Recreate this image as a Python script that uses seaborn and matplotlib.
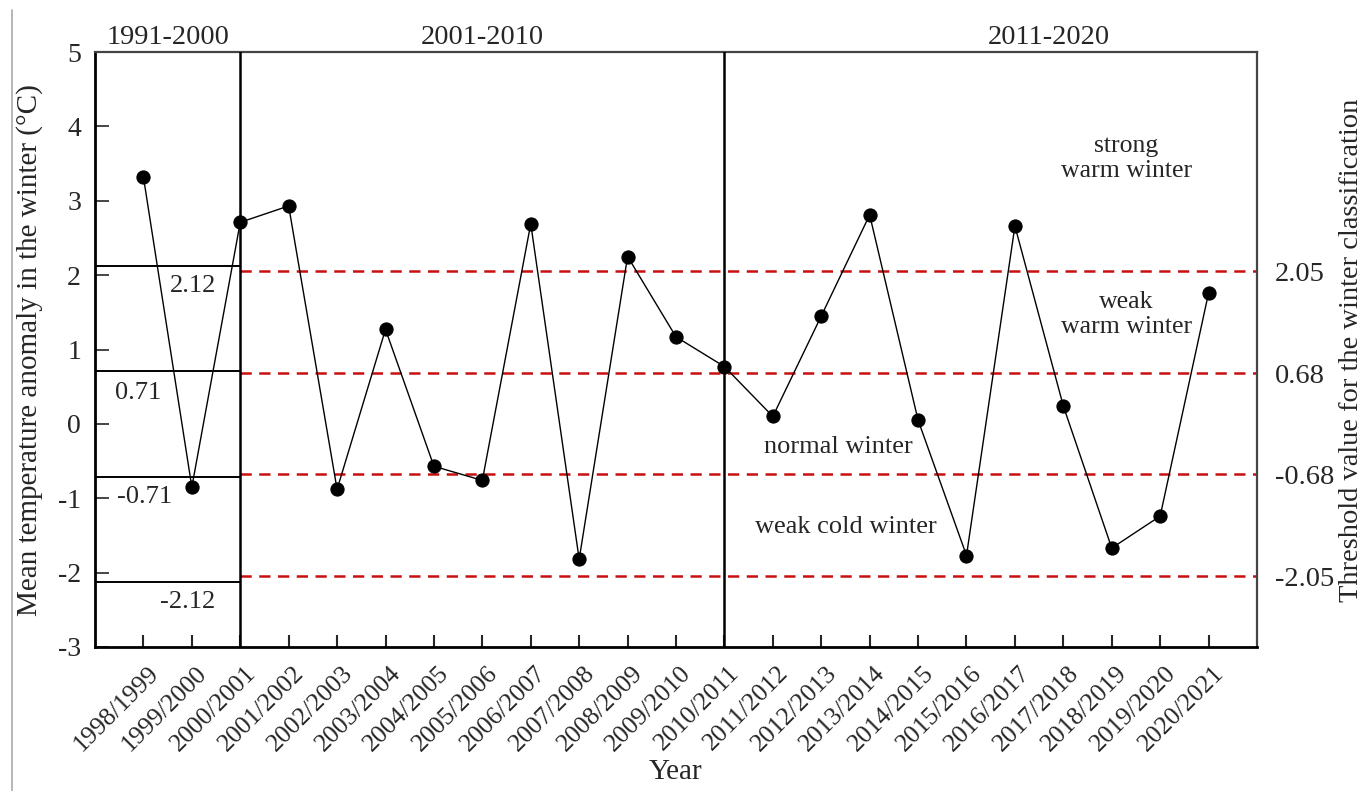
import matplotlib
matplotlib.use("Agg")
import matplotlib.pyplot as plt
import matplotlib.transforms as mtransforms
import seaborn as sns
import pandas as pd
from matplotlib.lines import Line2D

# Winter seasons and mean temperature anomaly (°C)
seasons = ["1998/1999", "1999/2000", "2000/2001", "2001/2002", "2002/2003",
           "2003/2004", "2004/2005", "2005/2006", "2006/2007", "2007/2008",
           "2008/2009", "2009/2010", "2010/2011", "2011/2012", "2012/2013",
           "2013/2014", "2014/2015", "2015/2016", "2016/2017", "2017/2018",
           "2018/2019", "2019/2020", "2020/2021"]
anomaly = [3.32, -0.85, 2.71, 2.93, -0.88, 1.27, -0.57, -0.76, 2.69, -1.82,
           2.25, 1.17, 0.77, 0.10, 1.45, 2.81, 0.05, -1.77, 2.66, 0.24,
           -1.67, -1.24, 1.76]

# Classification thresholds: 1991-2000 reference and current thresholds
old_thresholds = [2.12, 0.71, -0.71, -2.12]
new_thresholds = [2.05, 0.68, -0.68, -2.05]
new_threshold_labels = ["2.05", "0.68", "-0.68", "-2.05"]

decades = ["1991-2000", "2001-2010", "2011-2020"]
decade_breaks = [2, 12]

classes = ["strong\nwarm winter", "weak\nwarm winter", "normal winter", "weak cold winter"]

sns.set_style("ticks")
plt.rcParams["font.family"] = ["Liberation Serif", "DejaVu Serif"]

df = pd.DataFrame({"pos": range(len(seasons)), "season": seasons, "anomaly": anomaly})

W, H = 1364, 791
fig = plt.figure(figsize=(W / 100, H / 100), dpi=100)
ax = fig.add_axes([95 / W, 1 - 647 / H, (1257 - 95) / W, (647 - 52) / H])

sns.lineplot(data=df, x="pos", y="anomaly", ax=ax, color="black", lw=1.0,
             marker="o", markersize=9.5, markeredgecolor="black",
             markerfacecolor="black", zorder=5)

ax.set_xlim(-1, len(seasons))
ax.set_ylim(-3, 5)

# decade separators
for b in decade_breaks:
    ax.axvline(b, color="black", lw=1.8, zorder=3)

# old thresholds (left block) with labels
for v in old_thresholds:
    ax.plot([-1, decade_breaks[0]], [v, v], color="black", lw=1.4, zorder=2)
old_label_pos = [(1.02, 1.85), (-0.11, 0.41), (0.03, -0.98), (0.92, -2.4)]
for v, (xp, yp) in zip(old_thresholds, old_label_pos):
    ax.text(xp, yp, f"{v:.2f}", fontsize=19, ha="center", va="center")

# current thresholds (dashed red)
for v in new_thresholds:
    ax.plot([decade_breaks[0], len(seasons)], [v, v], color="#c81010", lw=1.8,
            ls=(0, (4.5, 3)), zorder=2)

# decade headers
head_x = [0.5, 7.0, 18.7]
for name, xp in zip(decades, head_x):
    ax.text(xp, 5.03, name, fontsize=20.5, ha="center", va="bottom")

# class labels
class_pos = [(20.3, 3.57), (20.3, 1.47), (14.35, -0.31), (14.5, -1.39)]
class_size = [18.5, 18.5, 19, 19]
for name, (xp, yp), fs in zip(classes, class_pos, class_size):
    ax.text(xp, yp, name, fontsize=fs, ha="center", va="center", linespacing=1.2)

ax.set_xticks(range(len(seasons)))
ax.set_xticklabels(seasons, rotation=45, ha="center", va="top", fontsize=18.5)
ax.set_yticks(range(-3, 6))
ax.set_yticklabels([str(v) for v in range(-3, 6)], fontsize=20)
ax.tick_params(axis="x", direction="in", length=9, width=1.5, pad=11, top=False)
ax.tick_params(axis="y", direction="in", length=10, width=1.2, pad=10, right=False)

# shift the slanted season labels a little to the left of their ticks
shift = mtransforms.ScaledTranslation(-0.27, 0, fig.dpi_scale_trans)
for lab in ax.get_xticklabels():
    lab.set_transform(lab.get_transform() + shift)

ax.set_xlabel("")
ax.set_ylabel("")
fig.text(676 / W, 1 - 772 / H, "Year", fontsize=21, ha="center", va="center")
fig.text(30 / W, 1 - 350 / H, "Mean temperature anomaly in the winter (°C)",
         fontsize=21, rotation=90, ha="center", va="center")

for side in ["left", "bottom"]:
    ax.spines[side].set_color("black")
    ax.spines[side].set_linewidth(2.0)
for side in ["top", "right"]:
    ax.spines[side].set_color("#444444")
    ax.spines[side].set_linewidth(1.6)
    ax.spines[side].set_visible(True)

# right axis with threshold values
ax2 = ax.twinx()
ax2.set_ylim(ax.get_ylim())
ax2.set_yticks(new_thresholds)
ax2.set_yticklabels(new_threshold_labels, fontsize=20.5)
ax2.tick_params(axis="y", length=0, pad=13)
for s in ax2.spines.values():
    s.set_visible(False)
fig.text(1.0, 1 - 350 / H, "Threshold value for the winter classification",
         fontsize=20.5, rotation=90, ha="right", va="center")

# thin frame line at the left edge of the figure
fig.add_artist(Line2D([12 / W, 12 / W], [1 - 10 / H, 0.0], color="#aaaaaa", lw=1.2))

fig.savefig("out.png", dpi=100, facecolor="white")
